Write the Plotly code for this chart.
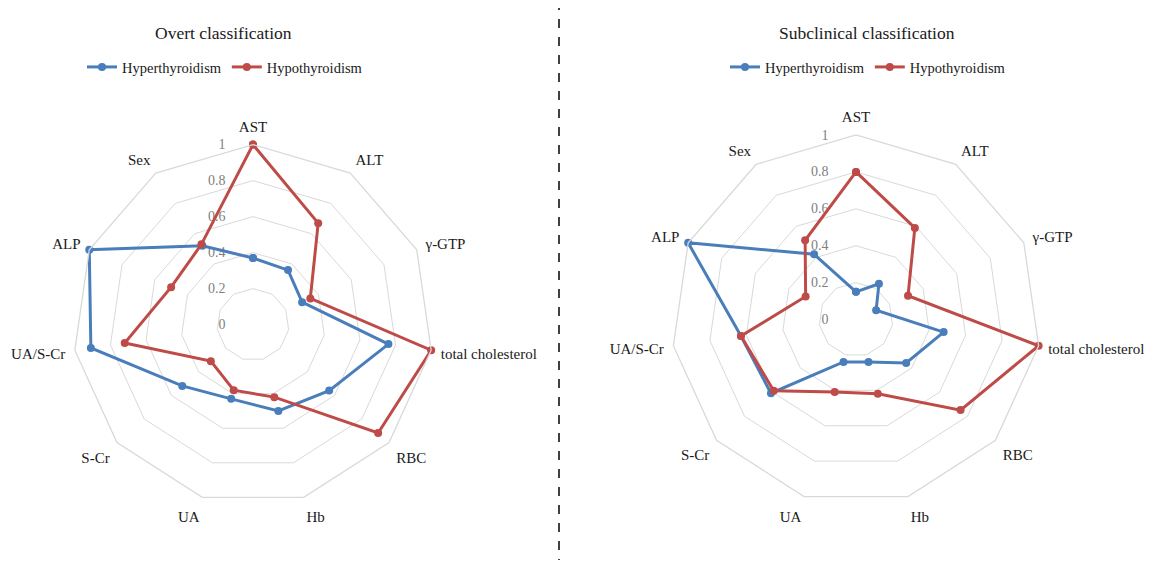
import plotly.graph_objects as go

categories = ["AST", "ALT", "γ-GTP", "total cholesterol", "RBC", "Hb", "UA",
              "S-Cr", "UA/S-Cr", "ALP", "Sex"]

overt_hyper = [0.37, 0.36, 0.30, 0.76, 0.56, 0.50, 0.43, 0.52, 0.91, 1.00, 0.52]
overt_hypo = [1.00, 0.67, 0.35, 1.00, 0.92, 0.42, 0.38, 0.31, 0.72, 0.50, 0.53]
sub_hyper = [0.15, 0.23, 0.12, 0.48, 0.36, 0.24, 0.24, 0.61, 0.63, 1.00, 0.42]
sub_hypo = [0.80, 0.59, 0.31, 1.00, 0.75, 0.42, 0.41, 0.59, 0.63, 0.30, 0.51]

series_names = ["Hyperthyroidism", "Hypothyroidism"]
panel_titles = ["Overt classification", "Subclinical classification"]
radial_ticks = [0, 0.2, 0.4, 0.6, 0.8, 1]
radial_ticktext = ["0", "0.2", "0.4", "0.6", "0.8", "1"]

BLUE = "#4A7EBB"
RED = "#BE4B48"
GRID = "#D9D9D9"
FONT = "Liberation Serif, Times New Roman, serif"

# page body has an 8px default margin; compensate
OFF = 8
W, H = 1153 - 2 * OFF, 568 - 2 * OFF

fig = go.Figure()

def closed(vals):
    return list(vals) + [vals[0]]

cats_closed = categories + [categories[0]]

panels = [
    ("polar", "legend", [overt_hyper, overt_hypo]),
    ("polar2", "legend2", [sub_hyper, sub_hypo]),
]
colors = [BLUE, RED]
for sub, leg, data in panels:
    for name, vals, col in zip(series_names, data, colors):
        fig.add_trace(go.Scatterpolar(
            r=closed(vals), theta=cats_closed, name=name, subplot=sub, legend=leg,
            mode="lines+markers",
            line=dict(color=col, width=3),
            marker=dict(color=col, size=8),
            cliponaxis=False,
        ))

def polar_cfg(xdom, ydom):
    return dict(
        domain=dict(x=xdom, y=ydom),
        gridshape="linear",
        bgcolor="white",
        angularaxis=dict(
            rotation=90, direction="clockwise", showgrid=False,
            showline=True, linecolor=GRID, linewidth=1.3,
            ticks="outside", ticklen=6, tickcolor="rgba(0,0,0,0)",
            tickfont=dict(family=FONT, size=15, color="#1a1a1a"),
        ),
        radialaxis=dict(
            range=[0, 1], tickvals=radial_ticks, ticktext=radial_ticktext,
            angle=90, side="counterclockwise", showline=False,
            ticks="outside", ticklen=22, tickcolor="rgba(0,0,0,0)",
            tickangle=90, layer="below traces",
            gridcolor=GRID, gridwidth=1.3,
            tickfont=dict(family=FONT, size=14, color="#7F7F7F"),
        ),
    )

def px(x):
    return (x - OFF) / W

def py(y):
    return 1 - (y - OFF) / H

def dom(cx, cy, R):
    return ([px(cx - R), px(cx + R)], [py(cy + R), py(cy - R)])

lx, ly = dom(253, 324.6, 180)
rx, ry = dom(856, 319.5, 184.5)

legend_common = dict(
    orientation="h", xanchor="center", yanchor="middle",
    font=dict(family=FONT, size=14.5, color="#1a1a1a"),
    bgcolor="rgba(0,0,0,0)", itemwidth=30, tracegroupgap=0,
)

fig.update_layout(
    width=W, height=H,
    margin=dict(l=0, r=0, t=0, b=0),
    paper_bgcolor="white", plot_bgcolor="white",
    polar=polar_cfg(lx, ly),
    polar2=polar_cfg(rx, ry),
    legend=dict(x=px(225), y=py(67), **legend_common),
    legend2=dict(x=px(868), y=py(67), **legend_common),
    annotations=[
        dict(text=panel_titles[0], x=px(223), y=py(33), xref="paper", yref="paper",
             xanchor="center", yanchor="middle", showarrow=False,
             font=dict(family=FONT, size=17.5, color="#1a1a1a")),
        dict(text=panel_titles[1], x=px(867), y=py(33), xref="paper", yref="paper",
             xanchor="center", yanchor="middle", showarrow=False,
             font=dict(family=FONT, size=17.5, color="#1a1a1a")),
    ],
    shapes=[
        dict(type="line", xref="paper", yref="paper", x0=px(559), x1=px(559),
             y0=py(568), y1=py(8), line=dict(color="#404040", width=2, dash="dash")),
    ],
)

fig.write_html("out.html")
